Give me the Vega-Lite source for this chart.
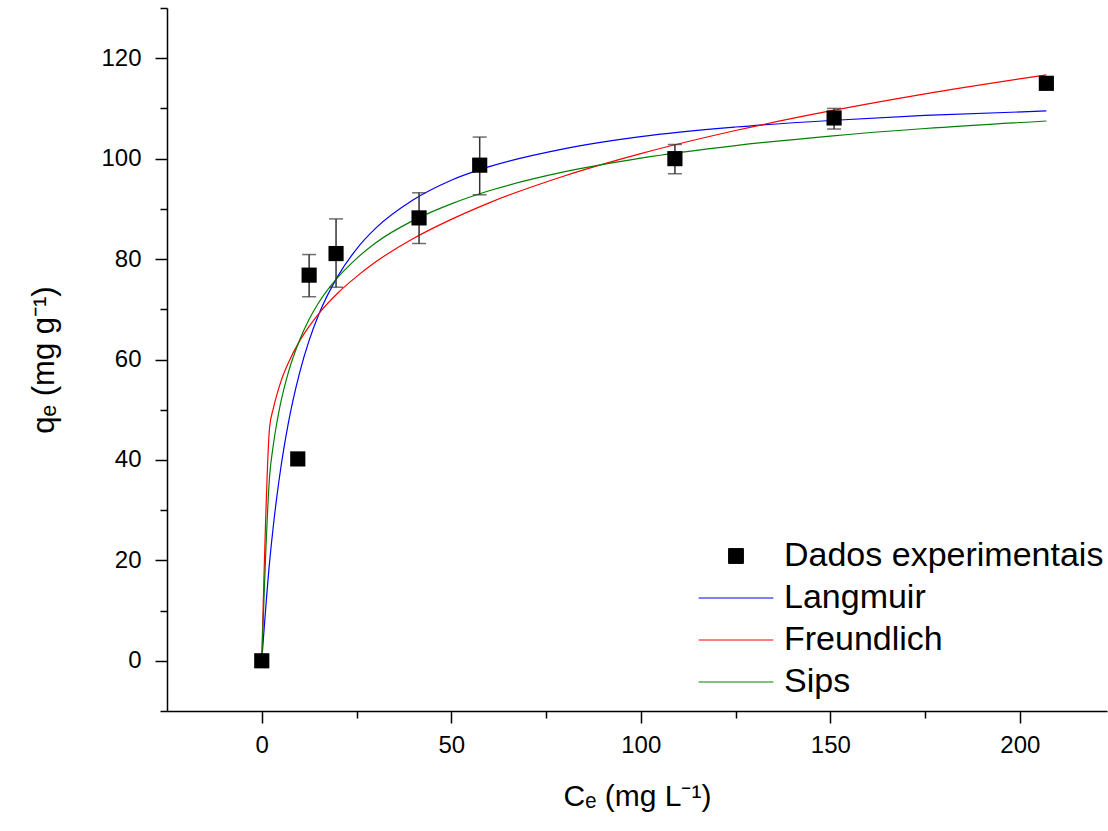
{
  "$schema": "https://vega.github.io/schema/vega-lite/v6.json",
  "autosize": "none",
  "width": 940,
  "height": 703,
  "padding": {"left": 167, "top": 8, "right": 1, "bottom": 120},
  "background": "white",
  "config": {"view": {"stroke": null}, "font": "Liberation Sans"},
  "datasets": {
    "pts": [
      {"series": "Dados experimentais", "C": 0, "q": 0, "lo": null, "hi": null},
      {"series": "Dados experimentais", "C": 9.5, "q": 40.2, "lo": null, "hi": null},
      {"series": "Dados experimentais", "C": 12.5, "q": 76.8, "lo": 72.5, "hi": 80.9},
      {"series": "Dados experimentais", "C": 19.6, "q": 81.1, "lo": 74.4, "hi": 88.0},
      {"series": "Dados experimentais", "C": 41.5, "q": 88.2, "lo": 83.1, "hi": 93.2},
      {"series": "Dados experimentais", "C": 57.5, "q": 98.7, "lo": 92.8, "hi": 104.3},
      {"series": "Dados experimentais", "C": 109, "q": 100.0, "lo": 97.0, "hi": 102.8},
      {"series": "Dados experimentais", "C": 151, "q": 108.1, "lo": 105.9, "hi": 110.0},
      {"series": "Dados experimentais", "C": 207, "q": 115.0, "lo": null, "hi": null}
    ],
    "curves": [
      {"series": "Langmuir", "C": 0, "q": 0},
      {"series": "Langmuir", "C": 2.07, "q": 19.7},
      {"series": "Langmuir", "C": 3, "q": 26.5},
      {"series": "Langmuir", "C": 4, "q": 32.8},
      {"series": "Langmuir", "C": 5, "q": 38.3},
      {"series": "Langmuir", "C": 7, "q": 47.3},
      {"series": "Langmuir", "C": 10, "q": 57.4},
      {"series": "Langmuir", "C": 12.5, "q": 63.8},
      {"series": "Langmuir", "C": 15, "q": 68.9},
      {"series": "Langmuir", "C": 20, "q": 76.5},
      {"series": "Langmuir", "C": 25, "q": 82.0},
      {"series": "Langmuir", "C": 30, "q": 86.1},
      {"series": "Langmuir", "C": 40, "q": 91.8},
      {"series": "Langmuir", "C": 50, "q": 95.7},
      {"series": "Langmuir", "C": 60, "q": 98.4},
      {"series": "Langmuir", "C": 80, "q": 102.0},
      {"series": "Langmuir", "C": 100, "q": 104.4},
      {"series": "Langmuir", "C": 125, "q": 106.3},
      {"series": "Langmuir", "C": 150, "q": 107.6},
      {"series": "Langmuir", "C": 175, "q": 108.6},
      {"series": "Langmuir", "C": 207, "q": 109.5},
      {"series": "Freundlich", "C": 0, "q": 0},
      {"series": "Freundlich", "C": 2.07, "q": 46.5},
      {"series": "Freundlich", "C": 3, "q": 50.1},
      {"series": "Freundlich", "C": 4, "q": 53.0},
      {"series": "Freundlich", "C": 5, "q": 55.5},
      {"series": "Freundlich", "C": 7, "q": 59.3},
      {"series": "Freundlich", "C": 10, "q": 63.7},
      {"series": "Freundlich", "C": 12.5, "q": 66.6},
      {"series": "Freundlich", "C": 15, "q": 69.1},
      {"series": "Freundlich", "C": 20, "q": 73.2},
      {"series": "Freundlich", "C": 25, "q": 76.5},
      {"series": "Freundlich", "C": 30, "q": 79.4},
      {"series": "Freundlich", "C": 40, "q": 84.1},
      {"series": "Freundlich", "C": 50, "q": 87.9},
      {"series": "Freundlich", "C": 60, "q": 91.2},
      {"series": "Freundlich", "C": 80, "q": 96.6},
      {"series": "Freundlich", "C": 100, "q": 101.0},
      {"series": "Freundlich", "C": 125, "q": 105.6},
      {"series": "Freundlich", "C": 150, "q": 109.5},
      {"series": "Freundlich", "C": 175, "q": 112.9},
      {"series": "Freundlich", "C": 207, "q": 116.7},
      {"series": "Sips", "C": 0, "q": 0},
      {"series": "Sips", "C": 2.07, "q": 36.8},
      {"series": "Sips", "C": 3, "q": 42.7},
      {"series": "Sips", "C": 4, "q": 47.5},
      {"series": "Sips", "C": 5, "q": 51.4},
      {"series": "Sips", "C": 7, "q": 57.4},
      {"series": "Sips", "C": 10, "q": 63.9},
      {"series": "Sips", "C": 12.5, "q": 68.0},
      {"series": "Sips", "C": 15, "q": 71.3},
      {"series": "Sips", "C": 20, "q": 76.3},
      {"series": "Sips", "C": 25, "q": 80.1},
      {"series": "Sips", "C": 30, "q": 83.2},
      {"series": "Sips", "C": 40, "q": 87.7},
      {"series": "Sips", "C": 50, "q": 91.0},
      {"series": "Sips", "C": 60, "q": 93.6},
      {"series": "Sips", "C": 80, "q": 97.4},
      {"series": "Sips", "C": 100, "q": 100.1},
      {"series": "Sips", "C": 125, "q": 102.6},
      {"series": "Sips", "C": 150, "q": 104.5},
      {"series": "Sips", "C": 175, "q": 106.0},
      {"series": "Sips", "C": 207, "q": 107.5}
    ]
  },
  "encoding": {
    "x": {
      "field": "C", "type": "quantitative",
      "scale": {"domain": [-25, 223], "nice": false, "zero": false},
      "axis": {
        "title": "Cₑ (mg L⁻¹)",
        "titleFontSize": 30, "titleFontWeight": "normal", "titleColor": "black", "titlePadding": 24,
        "values": [0, 25, 50, 75, 100, 125, 150, 175, 200],
        "labelExpr": "datum.value % 50 === 0 ? datum.label : ''",
        "labelFontSize": 24, "labelColor": "black", "labelPadding": 10,
        "domainColor": "black", "domainWidth": 1.5,
        "tickColor": "black", "tickWidth": 1.5,
        "tickSize": {"condition": {"test": "datum.value % 50 === 0", "value": 12}, "value": 7},
        "grid": false
      }
    },
    "y": {
      "field": "q", "type": "quantitative",
      "scale": {"domain": [-10, 130], "nice": false, "zero": false},
      "axis": {
        "title": "qₑ (mg g⁻¹)",
        "titleFontSize": 31, "titleFontWeight": "normal", "titleColor": "black", "titlePadding": 40,
        "values": [-10, 0, 10, 20, 30, 40, 50, 60, 70, 80, 90, 100, 110, 120, 130],
        "labelExpr": "datum.value % 20 === 0 && datum.value >= 0 && datum.value <= 120 ? datum.label : ''",
        "labelFontSize": 24, "labelColor": "black", "labelPadding": 14,
        "domainColor": "black", "domainWidth": 1.5,
        "tickColor": "black", "tickWidth": 1.5,
        "tickSize": {"condition": {"test": "datum.value % 20 === 0 && datum.value >= 0 && datum.value <= 120", "value": 12}, "value": 7},
        "grid": false
      }
    }
  },
  "layer": [
    {
      "data": {"name": "curves"},
      "mark": {"type": "line", "strokeWidth": 1.2, "interpolate": "monotone"},
      "encoding": {
        "detail": {"field": "series"},
        "color": {
          "field": "series", "type": "nominal",
          "scale": {
            "domain": ["Dados experimentais", "Langmuir", "Freundlich", "Sips"],
            "range": ["black", "#0000ff", "#ff0000", "#008000"]
          },
          "legend": {
            "title": null,
            "orient": "none",
            "legendX": 531,
            "legendY": 527,
            "symbolSize": 5600,
            "labelFontSize": 34,
            "labelColor": "black",
            "labelLimit": 500,
            "labelOffset": 10,
            "rowPadding": 0,
            "clipHeight": 42,
            "symbolStrokeWidth": 1,
            "encode": {
              "symbols": {
                "update": {
                  "shape": {"signal": "datum.value === 'Dados experimentais' ? 'square' : 'stroke'"},
                  "size": {"signal": "datum.value === 'Dados experimentais' ? 220 : 5600"},
                  "fill": {"signal": "datum.value === 'Dados experimentais' ? 'black' : 'transparent'"},
                  "stroke": {"scale": "color", "field": "value"},
                  "strokeWidth": {"value": 1},
                  "opacity": {"value": 1}
                }
              }
            }
          }
        }
      }
    },
    {
      "data": {"name": "pts"},
      "transform": [{"filter": "datum.lo != null"}],
      "mark": {"type": "errorbar", "color": "#333333", "thickness": 1.5, "ticks": {"size": 14, "thickness": 1.5, "color": "#333333"}},
      "encoding": {
        "y": {"field": "lo", "type": "quantitative"},
        "y2": {"field": "hi"}
      }
    },
    {
      "data": {"name": "pts"},
      "mark": {"type": "point", "shape": "square", "filled": true, "size": 230, "opacity": 1},
      "encoding": {
        "color": {"field": "series", "type": "nominal"}
      }
    }
  ]
}
